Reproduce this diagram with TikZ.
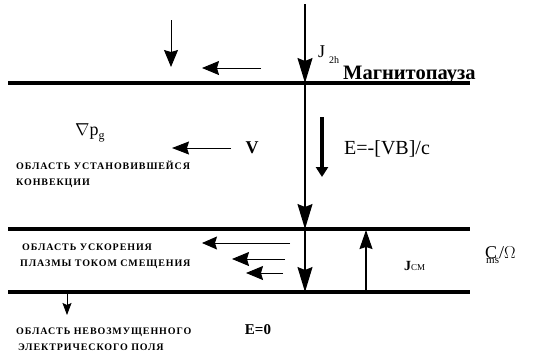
\documentclass[tikz,border=0pt]{standalone}
\usepackage{fontspec}
\setmainfont{Liberation Serif}
\newfontfamily\capsfont[LetterSpace=9]{Liberation Serif}
\usetikzlibrary{arrows.meta}

\begin{document}
\begin{tikzpicture}[x=1pt,y=-1pt,
 bnd/.style={line width=3.5pt},
 arr/.style={-{Stealth[length=17pt,width=14pt,inset=2pt]},line width=1pt},
 big/.style={-{Stealth[length=25pt,width=15pt,inset=3pt]},line width=1.2pt},
 lbl/.style={font=\capsfont\fontsize{10}{16}\selectfont\bfseries,align=left,anchor=west,inner sep=0pt},
 sym/.style={font=\fontsize{18}{20}\selectfont,inner sep=0pt,anchor=base west}]
\useasboundingbox (0,0) rectangle (555,360);
% boundaries
\coordinate (mpW) at (8,83);\coordinate (mpE) at (470,83);
\coordinate (cvW) at (8,229);\coordinate (cvE) at (470,229);
\coordinate (acW) at (8,292);\coordinate (acE) at (470,292);
\draw[bnd](mpW)--(mpE);\draw[bnd](cvW)--(cvE);\draw[bnd](acW)--(acE);
% current through the layers
\coordinate (src) at (305,4);\coordinate (m1) at (305,83);\coordinate (m2) at (305,229);\coordinate (m3) at (305,292);
\draw[big](src)--(m1);\draw[big](m1)--(m2);\draw[big](m2)--(m3);
\node[sym] (j2h) at (318,57) {J\hspace{4pt}\raisebox{-6pt}{\fontsize{10}{10}\selectfont 2h}};
\node[sym,font=\fontsize{20.5}{21}\selectfont\bfseries] (mp) at (343,79) {Магнитопауза};
% above the magnetopause
\coordinate (d1) at (171,20);\coordinate (d2) at (171,67);\draw[arr](d1)--(d2);
\coordinate (l1) at (261,68);\coordinate (l2) at (202,68);\draw[arr](l1)--(l2);
% convection region
\node[sym] (grad) at (75,135) {$\nabla$p\raisebox{-4pt}{\fontsize{12}{12}\selectfont g}};
\coordinate (v1) at (231,148);\coordinate (v2) at (172,148);\draw[arr,-{Stealth[length=17pt,width=13pt,inset=2pt]}](v1)--(v2);
\node[sym,font=\fontsize{18}{20}\selectfont\bfseries,anchor=center] (vel) at (252,148) {V};
\coordinate (e1) at (322,117);\coordinate (e2) at (322,177);
\draw[line width=4.5pt,-{Triangle[length=10pt,width=12pt]}](e1)--(e2);
\node[sym,font=\fontsize{20}{20}\selectfont] (efld) at (344,154) {E=-[VB]/c};
\node[lbl] (conv) at (16,174) {ОБЛАСТЬ УСТАНОВИВШЕЙСЯ\\КОНВЕКЦИИ};
% acceleration region
\coordinate (a1) at (290,243);\coordinate (a2) at (202,243);\draw[arr,-{Stealth[length=15pt,width=13pt,inset=2pt]}](a1)--(a2);
\coordinate (b1) at (285,259);\coordinate (b2) at (232,259);\draw[arr](b1)--(b2);
\coordinate (c1) at (283,273);\coordinate (c2) at (246,273);\draw[arr](c1)--(c2);
\coordinate (u1) at (366,292);\coordinate (u2) at (366,230);
\draw[line width=1.2pt,-{Stealth[length=19pt,width=13pt,inset=2pt]}](u1)--(u2);
\node[sym,font=\fontsize{14}{14}\selectfont\bfseries] (jcm) at (404,270) {J\fontsize{9}{9}\selectfont\mdseries СМ};
\node[sym] (cms) at (485,258) {C\hspace{-11pt}\raisebox{-5pt}{\fontsize{11}{11}\selectfont ms}/$\Omega$};
\node[lbl] (accel) at (22,256.5) {ОБЛАСТЬ УСКОРЕНИЯ\\\hspace*{-2pt}ПЛАЗМЫ ТОКОМ СМЕЩЕНИЯ};
% undisturbed region
\coordinate (f1) at (67,292);\coordinate (f2) at (67,315);
\draw[line width=.8pt,-{Stealth[length=12pt,width=9pt,inset=2pt]}](f1)--(f2);
\node[lbl] (undist) at (16,339.5) {ОБЛАСТЬ НЕВОЗМУЩЕННОГО\\\hspace*{2pt}ЭЛЕКТРИЧЕСКОГО ПОЛЯ};
\node[sym,font=\fontsize{15}{15}\selectfont\bfseries,anchor=center] (ezero) at (258,330) {E=0};
\end{tikzpicture}
\end{document}
